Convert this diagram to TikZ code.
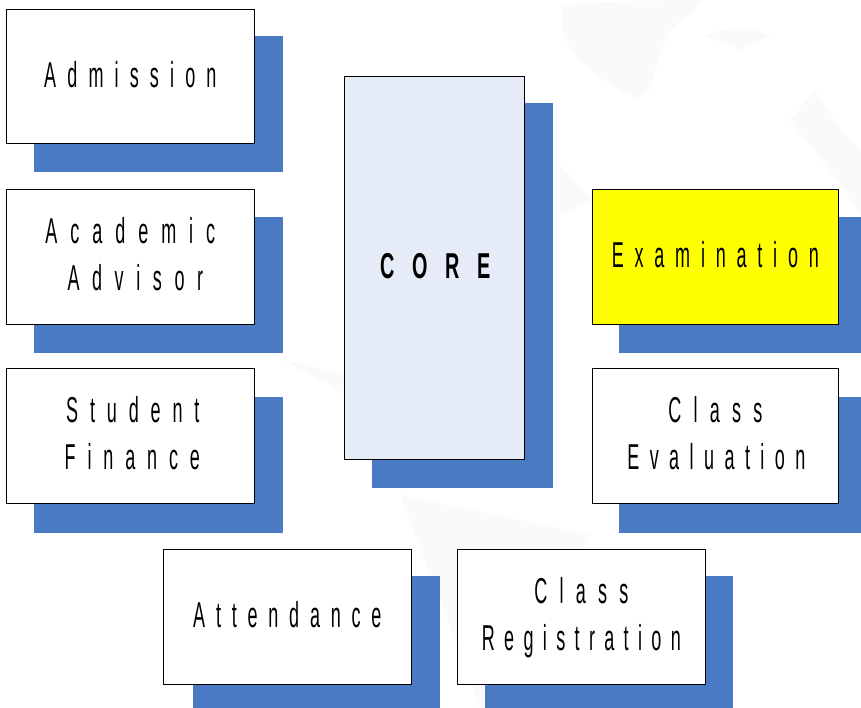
\documentclass[tikz,border=0pt]{standalone}
\usepackage{fontspec}
\setmainfont{Liberation Sans}
\newfontfamily\cardfont[FakeStretch=0.5,LetterSpace=30]{Liberation Sans}
\newfontfamily\corefont[FakeStretch=0.55,LetterSpace=50]{Liberation Sans}
\definecolor{shadowblue}{HTML}{4A7AC4}
\definecolor{corefill}{HTML}{E6ECF7}
\definecolor{mapgrey}{HTML}{FAFAFA}
\definecolor{pureyellow}{RGB}{255,255,0}
\newcommand{\cardline}[3][0pt]{\raisebox{-10.5pt}[0pt][0pt]{\hspace*{#1}\addfontfeature{LetterSpace=#2}#3}}
\tikzset{
  x=1pt,y=-1pt,
  card/.style={draw=black,line width=0.7pt,fill=white,minimum width=248pt,minimum height=134.5pt,inner sep=0pt,align=center,font=\fontsize{36}{47}\cardfont,anchor=north west},
  shade/.style={fill=shadowblue,draw=none,minimum width=249pt,minimum height=136pt,inner sep=0pt,anchor=north west},
}
\begin{document}
\begin{tikzpicture}
\useasboundingbox (0,0) rectangle (861,708);
\fill[white] (0,0) rectangle (861,708);
\fill[mapgrey] (562,5) .. controls (620,0) and (680,0) .. (700,0) -- (690,15) .. controls (660,30) and (660,60) .. (650,90) -- (635,100) .. controls (610,80) and (575,70) .. (562,30) -- cycle;
\fill[mapgrey] (705,35) .. controls (730,25) and (760,30) .. (770,35) -- (740,50) -- cycle;
\fill[mapgrey] (790,120) -- (815,90) -- (840,130) -- (861,150) -- (861,215) -- (830,170) -- cycle;
\fill[mapgrey] (560,165) -- (592,200) -- (560,215) -- cycle;
\fill[mapgrey] (285,360) -- (345,395) -- (345,375) -- cycle;
\fill[mapgrey] (400,495) -- (590,535) -- (560,600) -- (540,708) -- (480,708) -- (440,600) -- cycle;
\node[shade] (s1) at (34,36) {};
\node[shade] (s2) at (34,217) {};
\node[shade] (s3) at (34,397) {};
\node[shade,minimum width=181pt,minimum height=385pt] (s4) at (372,103) {};
\node[shade,minimum width=242pt] (s5) at (619,217) {};
\node[shade,minimum width=242pt] (s6) at (619,397) {};
\node[shade,minimum width=247pt,minimum height=132pt] (s7) at (193,576) {};
\node[shade,minimum width=248pt,minimum height=132pt] (s8) at (485,576) {};
\node[card] (a) at (6,9) {\cardline{31}{Admission}};
\node[card] (b) at (6,189) {\cardline{36}{Academic}\\\cardline[10pt]{35}{Advisor}};
\node[card] (c) at (6,368) {\cardline[5pt]{33}{Student}\\\cardline[4pt]{33}{Finance}};
\node[card,fill=corefill,minimum width=180.5pt,minimum height=383pt,font=\fontsize{36}{47}\corefont\bfseries] (d) at (343.5,76) {\raisebox{-10.5pt}[0pt][0pt]{\hspace*{3pt}CORE}};
\node[card,fill=pureyellow,minimum width=246pt] (e) at (592,189) {\cardline{30}{Examination}};
\node[card,minimum width=246pt] (f) at (592,368) {\cardline{34}{Class}\\\cardline[2pt]{29}{Evaluation}};
\node[card] (g) at (163,549) {\cardline{30}{Attendance}};
\node[card] (h) at (457,549) {\cardline{34}{Class}\\\cardline{26}{Registration}};
\end{tikzpicture}
\end{document}
